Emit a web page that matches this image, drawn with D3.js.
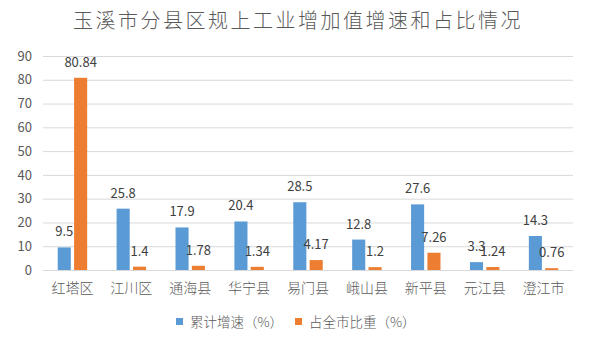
<!DOCTYPE html>
<html><head><meta charset="utf-8">
<script src="https://cdn.jsdelivr.net/npm/d3@7"></script>
<style>
body{margin:0;background:#fff;}
text{font-family:"Noto Sans CJK SC","Noto Sans",sans-serif;}
</style></head>
<body><svg id="c" width="590" height="340"></svg>
<script>
const categories = ["红塔区","江川区","通海县","华宁县","易门县","峨山县","新平县","元江县","澄江市"];
const growth = [9.5, 25.8, 17.9, 20.4, 28.5, 12.8, 27.6, 3.3, 14.3];
const share = [80.84, 1.4, 1.78, 1.34, 4.17, 1.2, 7.26, 1.24, 0.76];
const growthLabels = ["9.5","25.8","17.9","20.4","28.5","12.8","27.6","3.3","14.3"];
const shareLabels = ["80.84","1.4","1.78","1.34","4.17","1.2","7.26","1.24","0.76"];
const seriesNames = ["累计增速（%）","占全市比重（%）"];
const colors = ["#5b9bd5","#ed7d31"];
const yTicks = [0,10,20,30,40,50,60,70,80,90];
const title = "玉溪市分县区规上工业增加值增速和占比情况";

const svg = d3.select("#c");
const pLeft = 43, pRight = 573, pTop = 56, pBottom = 270;
const x0 = d3.scaleBand().domain(categories).range([pLeft,pRight]).paddingInner(0.5).paddingOuter(0.25);
const x1 = d3.scaleBand().domain([0,1]).range([0,x0.bandwidth()]).paddingInner(0.2);
const y = d3.scaleLinear().domain([0,90]).range([pBottom,pTop]);

svg.append("text").attr("x",298).attr("y",28).attr("text-anchor","middle")
  .attr("font-size",20).attr("font-weight",300).attr("letter-spacing",2.5).attr("fill","#595959").text(title);

// grid
svg.append("g").selectAll("line").data(yTicks).join("line")
  .attr("x1",pLeft).attr("x2",pRight).attr("y1",d=>y(d)+0.5).attr("y2",d=>y(d)+0.5)
  .attr("stroke","#d9d9d9").attr("stroke-width",1);

const yAxis = d3.axisLeft(y).tickValues(yTicks).tickSize(0).tickPadding(0);
const ga = svg.append("g").attr("transform",`translate(${32},0)`).call(yAxis);
ga.select(".domain").remove();
ga.selectAll("text").attr("font-size",13).attr("fill","#595959").attr("font-family","'Open Sans',sans-serif");

const series = [growth, share];
const labels = [growthLabels, shareLabels];
series.forEach((vals,si)=>{
  const g = svg.append("g");
  g.selectAll("rect").data(vals).join("rect")
    .attr("x",(d,i)=>x0(categories[i])+x1(si))
    .attr("width",x1.bandwidth())
    .attr("y",d=>y(d))
    .attr("height",d=>y(0)-y(d))
    .attr("fill",colors[si]);
  g.selectAll("text").data(vals).join("text")
    .attr("x",(d,i)=>x0(categories[i])+x1(si)+x1.bandwidth()/2)
    .attr("y",d=>y(d)-11)
    .attr("text-anchor","middle")
    .attr("font-size",13).attr("fill","#404040").attr("font-family","'Open Sans',sans-serif")
    .text((d,i)=>labels[si][i]);
});

const xAxis = d3.axisBottom(x0).tickSize(0).tickPadding(0);
const gx = svg.append("g").attr("transform",`translate(0,${pBottom})`).call(xAxis);
gx.select(".domain").remove();
gx.selectAll("text").attr("font-size",14).attr("font-weight",300).attr("fill","#595959").attr("dy","0").attr("y",23);

// legend
const lg = svg.append("g");
const legX = [176, 295];
seriesNames.forEach((n,i)=>{
  lg.append("rect").attr("x",legX[i]).attr("y",318).attr("width",7).attr("height",7).attr("fill",colors[i]);
  lg.append("text").attr("x",legX[i]+14).attr("y",327).attr("font-size",13.5).attr("font-weight",300).attr("fill","#595959").text(n);
});
</script></body></html>
